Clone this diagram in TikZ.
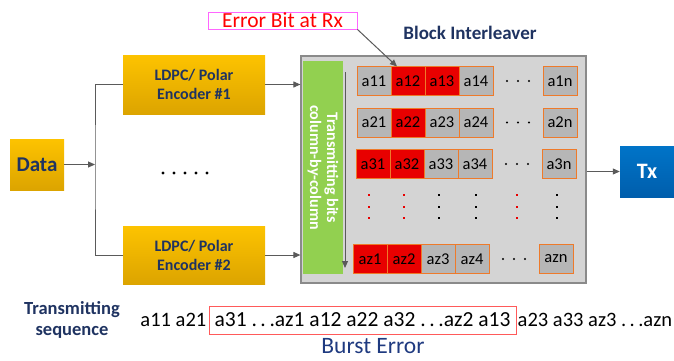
\documentclass[tikz,border=0pt]{standalone}
\usepackage{fontspec}
\setmainfont{Carlito}
\usetikzlibrary{positioning,arrows.meta,calc}
\begin{document}
\begin{tikzpicture}[x=1pt,y=-1pt,
  wire/.style={draw=wireg,line width=1pt},
  tip/.style={-{Triangle[length=7pt,width=6pt]}},
  encbox/.style={top color=ytop,bottom color=ybot,draw=none,minimum width=142pt,minimum height=59pt,align=center,text=navy,font=\fontsize{16}{19}\selectfont\bfseries},
  cell/.style={draw=cedge,line width=0.9pt,fill=cgray,minimum width=34pt,minimum height=29pt,inner sep=0pt,outer sep=0pt,font=\fontsize{16.5}{16.5}\selectfont},
  seqtxt/.style={inner sep=0pt,font=\fontsize{20.5}{20.5}\selectfont}]
\definecolor{navy}{HTML}{1F3361}\definecolor{wireg}{HTML}{5A5A5A}
\definecolor{ytop}{HTML}{FDC300}\definecolor{ybot}{HTML}{DCA400}
\definecolor{cgray}{HTML}{B6B6B6}\definecolor{cred}{HTML}{E80000}
\definecolor{cedge}{HTML}{EE7A2A}\definecolor{ilvfill}{HTML}{D4D4D4}
\definecolor{ilvedge}{HTML}{8A8A8A}\definecolor{green}{HTML}{92D050}
\definecolor{btop}{HTML}{0074C8}\definecolor{bbot}{HTML}{005EAC}
\definecolor{errpink}{HTML}{FF66FF}\definecolor{seqred}{HTML}{FF5A5A}
\definecolor{burst}{HTML}{1F3A80}
\useasboundingbox (0,0) rectangle (674,360);
\node[top color=ytop,bottom color=ybot,minimum width=54pt,minimum height=51pt,text=navy,font=\fontsize{21}{21}\selectfont\bfseries] (data) at (37,164.5) {Data};
\node[encbox] (enc1) at (194,84.5) {LDPC/ Polar\\Encoder \#1};
\node[encbox,minimum height=58pt] (enc2) at (194,255) {LDPC/ Polar\\Encoder \#2};
\coordinate (split) at (95,164.5);
\draw[wire,tip] (data) -- (split);
\draw[wire] (enc1.west) -| (split) |- (enc2.west);
\foreach \k in {0,...,4}
  \fill (163+11*\k,173) circle (1.7);
\node[fill=ilvfill,draw=ilvedge,line width=1.2pt,minimum width=285pt,minimum height=227pt] (ilv) at (443.5,169.5) {};
\node[font=\fontsize{19}{19}\selectfont\bfseries,text=navy] (ilvlabel) at (470,33) {Block Interleaver};
\draw[wire,tip] (enc1.east) -- (enc1.east -| ilv.west);
\draw[wire,tip] (enc2.east) -- (enc2.east -| ilv.west);
\node[fill=green,rotate=-90,minimum width=213pt,minimum height=40pt,inner sep=0pt,align=center,text=white,font=\fontsize{16}{17}\selectfont\bfseries] (colbox) at (323,167.5) {Transmitting bits\\column-by-column};
\coordinate (coltop) at (345,72);
\coordinate (colbot) at (345,268);
\draw[wire,tip] (coltop) -- (colbot);
\foreach \rw/\yy/\xo/\fa/\fb/\fc in {1/81/357/cgray/cred/cred,2/122.5/357/cgray/cred/cgray,3/164/356/cred/cred/cgray,z/259/353/cred/cred/cgray}{
  \node[cell,fill=\fa] (c\rw1) at (\xo+17,\yy) {a\rw1};
  \node[cell,fill=\fb,right=0pt of c\rw1] (c\rw2) {a\rw2};
  \node[cell,fill=\fc,right=0pt of c\rw2] (c\rw3) {a\rw3};
  \node[cell,right=0pt of c\rw3] (c\rw4) {a\rw4};
  \node[cell] (c\rw e) at (\xo+203,\yy) {a\rw n};
  \foreach \d in {-11,0,11}
    \fill (\xo+161+\d,\yy) circle (1.1);
}
\foreach \xx/\cc in {369/cred,404/cred,439/black,476/black,517/cred,557/black}
  \foreach \yy in {195,207,218}
    \fill[\cc] (\xx-1.3,\yy-1.3) rectangle ++(2.6,2.6);
\node[draw=errpink,line width=0.8pt,minimum width=149pt,minimum height=17pt,inner sep=0pt,text=red,font=\fontsize{21.5}{21.5}\selectfont] (err) at (282.5,20.5) {Error Bit at Rx};
\draw[wire,tip] (err.south east) -- ([xshift=6pt]c12.north west);
\node[top color=btop,bottom color=bbot,minimum width=54pt,minimum height=51pt,text=white,font=\fontsize{22}{22}\selectfont\bfseries] (tx) at (647,171.5) {Tx};
\draw[wire,tip] (tx.west -| ilv.east) -- (tx.west);
\node[align=center,text=navy,font=\fontsize{18.5}{20.5}\selectfont\bfseries] (seqlabel) at (72,320) {Transmitting\\sequence};
\node[seqtxt,draw=seqred,line width=1pt,minimum width=307pt,minimum height=28pt,font=\fontsize{21.5}{21.5}\selectfont] (seqmid) at (362.5,320) {a31 .\,.\,.az1 a12 a22 a32 .\,.\,.az2 a13};
\node[seqtxt,anchor=base east] (seqleft) at ([xshift=-2pt]seqmid.base west) {a11 a21};
\node[seqtxt,anchor=base west] (seqright) at ([xshift=1pt]seqmid.base east) {a23 a33 az3 .\,.\,.azn};
\node[text=burst,inner sep=0pt,anchor=base,font=\fontsize{23.5}{23.5}\selectfont] (burst) at (373,353) {Burst Error};
\end{tikzpicture}
\end{document}
